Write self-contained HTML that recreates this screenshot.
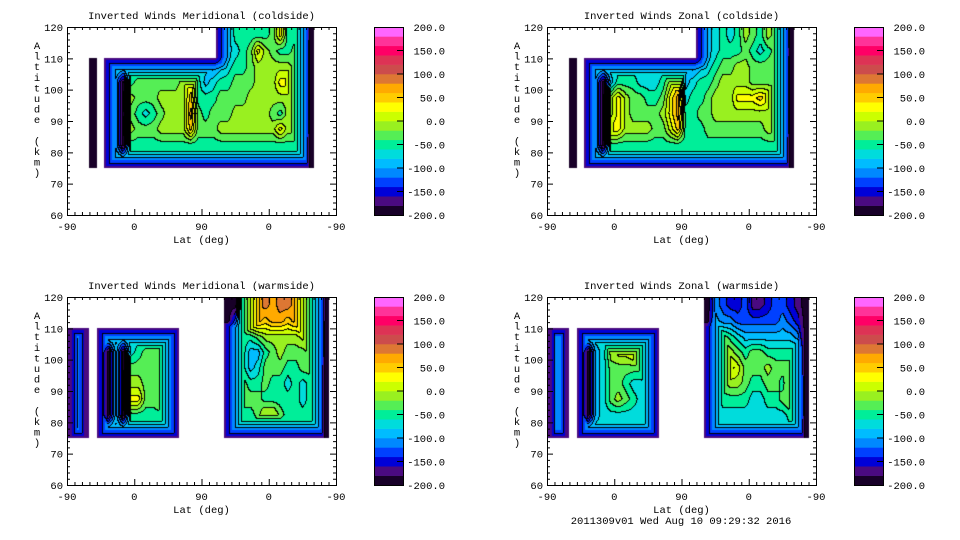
<!DOCTYPE html>
<html><head><meta charset="utf-8">
<style>
html,body{margin:0;padding:0;background:#fff;}
#wrap{position:relative;width:960px;height:540px;overflow:hidden;background:#fff;}
canvas{position:absolute;}
svg{position:absolute;left:0;top:0;}
text{font-family:"Liberation Mono","DejaVu Sans Mono",monospace;font-size:10.5px;fill:#000;}
</style></head>
<body>
<div id="wrap">
<canvas id="c0" width="269" height="188" style="left:67px;top:27px"></canvas>
<canvas id="c1" width="269" height="188" style="left:547px;top:27px"></canvas>
<canvas id="c2" width="269" height="188" style="left:67px;top:297px"></canvas>
<canvas id="c3" width="269" height="188" style="left:547px;top:297px"></canvas>
<svg id="ax" width="960" height="540"></svg>
</div>
<script>
// level codes 0..j (20 bands of 20 units from -200 to 200), '.' = no data
const meridColdRows = [
"....................45777778b7780...",
"....................45678b9877890...",
"...0.6666666666666645677899999890...",
"...0.44078888889b75677888999bb990...",
"...0.44098889999c77788889999999a0...",
"...0.44087678999d87888999998799a0...",
"...0.44098889999c88899999999b9990...",
"...0.4407777777777777777777777770...",
"...0.6666666666666666666666666660..."];
const zonalColdRows = [
"....................45676798798a0...",
"....................4567778767880...",
"...0.6666666666666645678899888890...",
"...0.440577766679b567789999888890...",
"...0.4409b988778bd6778999bbbcb990...",
"...0.4409b988889bd778899999999990...",
"...0.440bb999988ac777888888889990...",
"...0.4407777777777777777777777770...",
"...0.6666666666666666666666666660..."];
const meridWarmRows = [
".....................009ddedeedeed0.",
".....................038cdcddcdddd0.",
"141.66666666666......6677899999ab90.",
"141.4050678888a......89755789888990.",
"141.4050888889b......99756888778880.",
"141.4050998889b......88877877676770.",
"141.4050bb8899b......88888777776770.",
"141.40507777778......77778aa8777770.",
"141.66666666666......66666666666660."];
const zonalWarmRows = [
".....................04322311233210.",
".....................05443333334320.",
"151.66666666666......47876555555540.",
"151.40569aabaa9......69a98788777770.",
"151.40568888888......68aba888988870.",
"151.40568876678......67899877887aa0.",
"151.40568987678......667777667789a0.",
"151.40566666666......66666666666790.",
"151.66666666666......66666666666660."];
const colLevels = [-200,-180,-160,-140,-120,-100,-80,-60,-40,-20,0,20,40,60,80,100,120,140,160,180,200];
const cbarTicks = ["200.0","150.0","100.0","50.0","0.0","-50.0","-100.0","-150.0","-200.0"];
const yTicks = [60,70,80,90,100,110,120];
const xTickLabels = ["-90","0","90","0","-90"];
const titles = ["Inverted Winds Meridional (coldside)","Inverted Winds Zonal (coldside)","Inverted Winds Meridional (warmside)","Inverted Winds Zonal (warmside)"];

const palette = ["#180028","#4a0a80","#0000d8","#0040ff","#0088ff","#00bcff","#00dcdc","#00ee99","#55ee55","#99f020","#ccff00","#ffff00","#ffcc00","#ffaa00","#dd7733","#cc4c4c","#dd3355","#ff0066","#ff3399","#ff66ff"];
const rgb = palette.map(h=>[parseInt(h.substr(1,2),16),parseInt(h.substr(3,2),16),parseInt(h.substr(5,2),16)]);

function parseRows(rows){
  return rows.map(r=>{const a=[];for(let i=0;i<36;i++){const ch=r[i]||'.';a.push(ch==='.'?null:colLevels[parseInt(ch,36)]+10);}return a;});
}
const W=269,H=188, ALTMAX=120, ALTMIN=60;
function xScale(pos){return pos*W/360;}
function yScale(alt){return (ALTMAX-alt)*H/(ALTMAX-ALTMIN);}
function drawField(id, rows){
  const g=parseRows(rows);
  const cv=document.getElementById(id), ctx=cv.getContext('2d');
  const img=ctx.createImageData(W,H); const d=img.data;
  const cw=xScale(10);
  const val=new Float32Array(W*H).fill(NaN);
  for(let py=0;py<H;py++){
    const alt=ALTMAX-(py+0.5)*(ALTMAX-ALTMIN)/H;
    const rf=(120-alt)/5; const rn=Math.floor(rf);
    if(rn<0||rn>8) continue;
    for(let px=0;px<W;px++){
      const cf=(px+0.5)/cw; const cn=Math.floor(cf);
      if(cn<0||cn>35||g[rn][cn]===null) continue;
      const u=cf-0.5, v=rf-0.5; const i0=Math.floor(u), j0=Math.floor(v);
      const fu=u-i0, fv=v-j0; let s=0,ws=0;
      [[i0,j0,(1-fu)*(1-fv)],[i0+1,j0,fu*(1-fv)],[i0,j0+1,(1-fu)*fv],[i0+1,j0+1,fu*fv]].forEach(([ci,rj,w])=>{
        if(ci>=0&&ci<36&&rj>=0&&rj<9&&g[rj][ci]!==null){s+=g[rj][ci]*w;ws+=w;}
      });
      val[py*W+px]=ws>0?s/ws:g[rn][cn];
    }
  }
  const BIG=1e4, dist=new Float32Array(W*H);
  for(let k=0;k<W*H;k++) dist[k]=isNaN(val[k])?0:BIG;
  const get=(x,y)=>{if(x<0||x>=W||y>=H) return 0; if(y<0) return BIG; return dist[y*W+x];};
  for(let y=0;y<H;y++)for(let x=0;x<W;x++){const k=y*W+x;if(dist[k]===0)continue;
    dist[k]=Math.min(dist[k],get(x-1,y)+1,get(x,y-1)+1,get(x-1,y-1)+1.414,get(x+1,y-1)+1.414);}
  for(let y=H-1;y>=0;y--)for(let x=W-1;x>=0;x--){const k=y*W+x;if(dist[k]===0)continue;
    dist[k]=Math.min(dist[k],get(x+1,y)+1,get(x,y+1)+1,get(x+1,y+1)+1.414,get(x-1,y+1)+1.414);}
  const band=new Int16Array(W*H).fill(-1);
  for(let k=0;k<W*H;k++){
    if(isNaN(val[k])) continue;
    let v=Math.min(val[k],-170+(dist[k]-0.5)*6.5);
    let b=Math.floor((v+200)/20); band[k]=Math.max(0,Math.min(19,b));
  }
  for(let py=0;py<H;py++)for(let px=0;px<W;px++){
    const k=py*W+px,b=band[k]; if(b<0) continue;
    let c=rgb[b];
    const l=px>0?band[k-1]:-1, u=py>0?band[k-W]:-1;
    const edge=(l>=0&&l!==b)||(u>=0&&u!==b);
    if(edge && (dist[k]>10 || Math.min(b,l>=0&&l!==b?l:u)%2===0)) c=[0,0,0];
    d[k*4]=c[0];d[k*4+1]=c[1];d[k*4+2]=c[2];d[k*4+3]=255;
  }
  ctx.putImageData(img,0,0);
}
drawField('c0',meridColdRows);drawField('c1',zonalColdRows);drawField('c2',meridWarmRows);drawField('c3',zonalWarmRows);

const svg=document.getElementById('ax'); const NS='http://www.w3.org/2000/svg';
function el(tag,attrs,parent){const e=document.createElementNS(NS,tag);for(const k in attrs)e.setAttribute(k,attrs[k]);(parent||svg).appendChild(e);return e;}
const panels=[[67,27],[547,27],[67,297],[547,297]];
panels.forEach(([ox,oy],p)=>{
  const grp=el('g',{});
  
  
  const fr=el('rect',{x:ox+0.5,y:oy+0.5,width:W,height:H,fill:'none',stroke:'#000','stroke-width':1},grp);
  
  
  let path='';
  for(let a=ALTMIN;a<=ALTMAX;a+=2){const y=oy+yScale(a)+0.5;const L=(a%10===0)?6:3;path+=`M${ox} ${y}h${L}M${ox+W} ${y}h${-L}`;}
  for(let q=0;q<=360;q+=10){const x=ox+xScale(q)+0.5;const L=(q%90===0)?6:3;path+=`M${x} ${oy+H}v${-L}M${x} ${oy}v${L}`;}
  el('path',{d:path,stroke:'#000','stroke-width':1,fill:'none'},grp);
  yTicks.forEach(a=>{const t=el('text',{x:ox-4,y:oy+yScale(a)+4,'text-anchor':'end'},grp);t.textContent=a;
    
    });
  xTickLabels.forEach((s,i)=>{const t=el('text',{x:ox+xScale(i*90),y:oy+H+15,'text-anchor':'middle'},grp);t.textContent=s;
    
    });
  const xt=el('text',{x:ox+W/2,y:oy+H+28,'text-anchor':'middle'},grp);xt.textContent='Lat (deg)';
  
  
  const tt=el('text',{x:ox+W/2,y:oy-8,'text-anchor':'middle'},grp);tt.textContent=titles[p];
  
  
  const yl=el('text',{x:ox-30,y:oy+22,'text-anchor':'middle'},grp);
  
  
  'Altitude (km)'.split('').forEach((ch,i)=>{const ts=el('tspan',{x:ox-30,y:oy+22+i*10.6},yl);ts.textContent=ch;});
  const cx=ox+307, cbw=29;
  const cb=el('g',{},grp);
  
  
  const bh=H/palette.length;
  palette.forEach((c,i)=>{el('rect',{x:cx,y:oy+H-(i+1)*bh,width:cbw,height:bh+0.3,fill:c},cb);});
  el('rect',{x:cx+0.5,y:oy+0.5,width:cbw,height:H,fill:'none',stroke:'#000'},cb);
  cbarTicks.forEach((s,i)=>{const y=oy+i*H/8;
    if(i>0&&i<8) el('line',{x1:cx+cbw-6,x2:cx+cbw,y1:y,y2:y,stroke:'#000'},cb);
    const t=el('text',{x:cx+cbw+42,y:y+4,'text-anchor':'end'},cb);t.textContent=s;
    
    });
});
const ft=el('text',{x:681,y:524,'text-anchor':'middle'});ft.textContent='2011309v01 Wed Aug 10 09:29:32 2016';


</script>
</body></html>
